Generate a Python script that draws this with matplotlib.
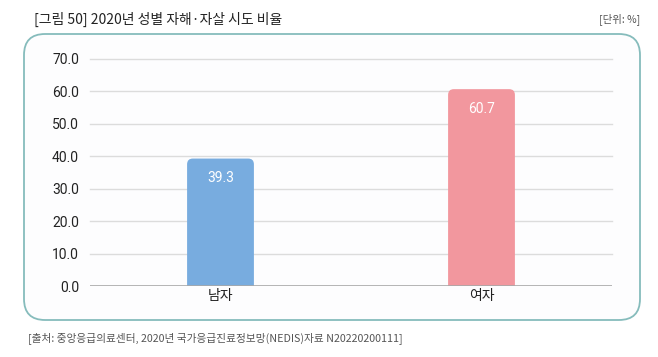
import matplotlib.pyplot as plt
from matplotlib.patches import FancyBboxPatch

plt.rcParams['font.family'] = ['Noto Sans CJK KR', 'DejaVu Sans']

categories = ["남자", "여자"]
values = [39.3, 60.7]
colors = ["#78acdf", "#f2979e"]
yticks = [0, 10, 20, 30, 40, 50, 60, 70]

title = "[그림 50] 2020년 성별 자해·자살 시도 비율"
unit = "[단위: %]"
source = "[출처: 중앙응급의료센터, 2020년 국가응급진료정보망(NEDIS)자료 N20220200111]"

W, H = 658, 357
fig = plt.figure(figsize=(W / 100, H / 100), dpi=100)
fig.patch.set_facecolor("white")

# outer rounded frame
frame = FancyBboxPatch((24 / W, 1 - 320 / H), (640 - 24) / W, (320 - 34) / H,
                       boxstyle="round,pad=0,rounding_size=0.032",
                       transform=fig.transFigure, mutation_aspect=W / H,
                       facecolor="#fdfdfe", edgecolor="#86bcbc", linewidth=1.3,
                       zorder=-5)
fig.patches.append(frame)

fig.text(34 / W, 1 - 19 / H, title, fontsize=10, color="#222222", va="center")
fig.text(640 / W, 1 - 19 / H, unit, fontsize=7.5, color="#555555", va="center", ha="right")
fig.text(28 / W, 1 - 338 / H, source, fontsize=7.7, color="#555555", va="center")

# axes: x 90..612 px, y 59..286 px
ax = fig.add_axes([90 / W, 1 - 286 / H, (612 - 90) / W, (286 - 59) / H])
ax.set_facecolor("none")
ax.set_xlim(-0.5, 1.5)
ax.set_ylim(0, 70)

for y in yticks[1:]:
    ax.axhline(y, color="#dcdcdc", linewidth=1.0, zorder=0, clip_on=False)
ax.axhline(0, color="#a8a8a8", linewidth=1.2, zorder=3)

px_x = ((612 - 90) / 2.0)
px_y = (286 - 59) / 70.0
bw = 0.256
for i, (v, c) in enumerate(zip(values, colors)):
    bar = FancyBboxPatch((i - bw / 2, -3), bw, v + 3,
                         boxstyle="round,pad=0,rounding_size=0.022",
                         mutation_aspect=px_x / px_y,
                         facecolor=c, edgecolor="none", zorder=2)
    ax.add_patch(bar)
    ax.text(i, v - 6, f"{v:.1f}", ha="center", va="center", color="white",
            fontsize=10, family=["Roboto", "DejaVu Sans"], zorder=4)

for s in ax.spines.values():
    s.set_visible(False)
ax.set_yticks(yticks)
ax.set_yticklabels([f"{t:.1f}" for t in yticks], family=["Roboto", "DejaVu Sans"],
                   fontsize=10, color="#222222")
ax.set_xticks(range(len(categories)))
ax.set_xticklabels(categories, fontsize=10, color="#222222")
ax.tick_params(axis="both", length=0)
ax.tick_params(axis="y", pad=8)
ax.tick_params(axis="x", pad=2)

fig.savefig("out.png", dpi=100)
